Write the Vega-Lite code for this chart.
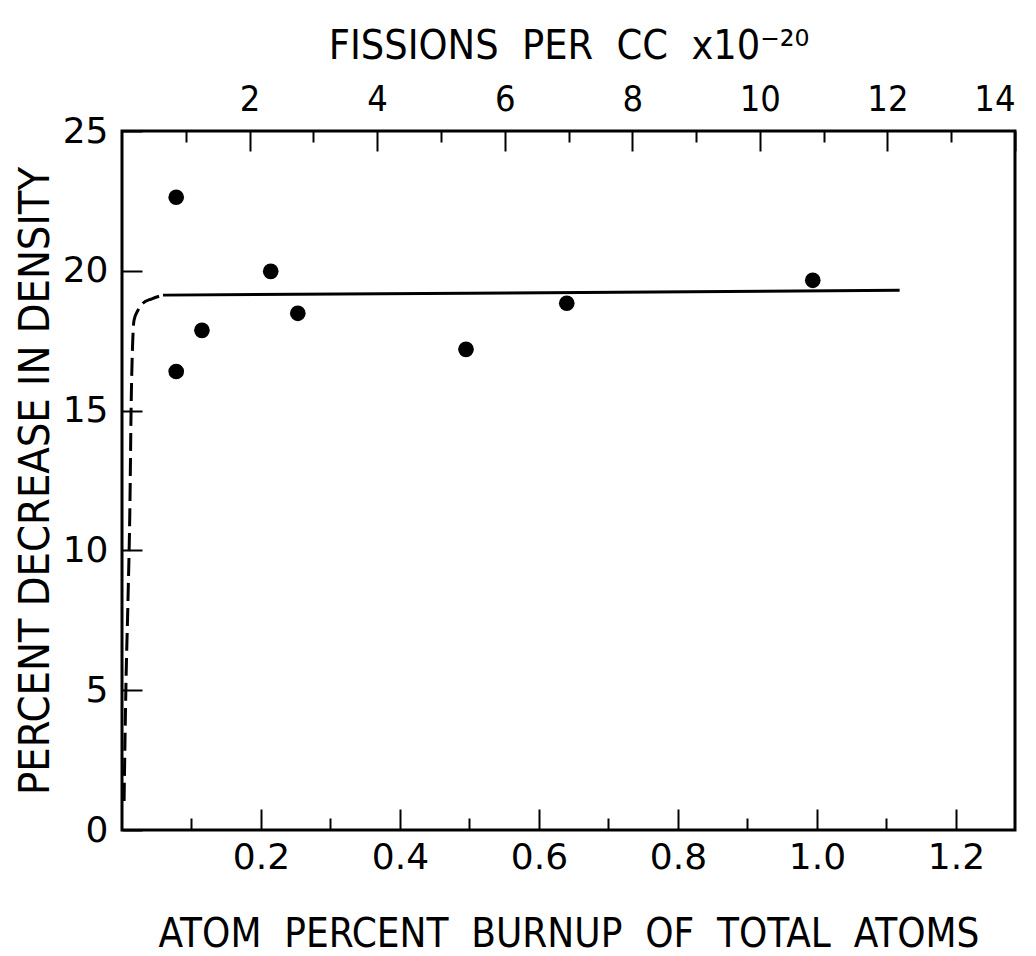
{
  "$schema": "https://vega.github.io/schema/vega-lite/v6.json",
  "width": 893,
  "height": 699,
  "autosize": {"type": "none"},
  "padding": {"left": 122, "top": 131, "right": 21, "bottom": 126},
  "background": "white",
  "config": {
    "view": {"stroke": "black", "strokeWidth": 3},
    "axis": {"grid": false, "domain": false, "tickColor": "black", "labelColor": "black", "titleColor": "black", "titleFontWeight": "normal"}
  },
  "datasets": {
    "points": [
      {"burnup": 0.078, "decrease": 22.63},
      {"burnup": 0.078, "decrease": 16.40},
      {"burnup": 0.115, "decrease": 17.87},
      {"burnup": 0.214, "decrease": 19.98},
      {"burnup": 0.253, "decrease": 18.48},
      {"burnup": 0.495, "decrease": 17.19},
      {"burnup": 0.640, "decrease": 18.84},
      {"burnup": 0.994, "decrease": 19.66}
    ],
    "fit": [
      {"burnup": 0.059, "decrease": 19.13},
      {"burnup": 1.119, "decrease": 19.30}
    ],
    "dashed": [
      {"burnup": 0.003, "decrease": 1.04},
      {"burnup": 0.0043, "decrease": 3.19},
      {"burnup": 0.0058, "decrease": 5.34},
      {"burnup": 0.0086, "decrease": 8.2},
      {"burnup": 0.0115, "decrease": 11.78},
      {"burnup": 0.0130, "decrease": 14.9},
      {"burnup": 0.0151, "decrease": 17.26},
      {"burnup": 0.0173, "decrease": 18.23},
      {"burnup": 0.023, "decrease": 18.59},
      {"burnup": 0.030, "decrease": 18.84},
      {"burnup": 0.043, "decrease": 19.0},
      {"burnup": 0.059, "decrease": 19.13}
    ],
    "fissions": [
      {"fissions": 0, "decrease": 0},
      {"fissions": 14, "decrease": 0}
    ]
  },
  "layer": [
    {
      "encoding": {
        "x": {
          "field": "burnup", "type": "quantitative",
          "scale": {"domain": [0, 1.285], "nice": false, "zero": false},
          "axis": {
            "orient": "bottom",
            "title": "ATOM\u00a0 PERCENT\u00a0 BURNUP\u00a0 OF\u00a0 TOTAL\u00a0 ATOMS",
            "values": [0.1, 0.2, 0.3, 0.4, 0.5, 0.6, 0.7, 0.8, 0.9, 1.0, 1.1, 1.2],
            "labelExpr": "round(datum.value*10) % 2 == 0 ? format(datum.value, '.1f') : ''",
            "tickSize": {"condition": {"test": "round(datum.value*10) % 2 == 0", "value": -21}, "value": -12},
            "tickWidth": 2,
            "labelFont": "DejaVu Sans",
            "labelFontSize": 36,
            "labelPadding": 31,
            "titleFont": "Liberation Sans Narrow, DejaVu Sans Condensed, sans-serif",
            "titleFontSize": 40,
            "titlePadding": 39
          }
        },
        "y": {
          "field": "decrease", "type": "quantitative",
          "scale": {"domain": [0, 25], "nice": false},
          "axis": {
            "title": "PERCENT  DECREASE  IN  DENSITY",
            "values": [0, 5, 10, 15, 20, 25],
            "tickSize": -20,
            "tickWidth": 2,
            "labelFont": "DejaVu Sans",
            "labelFontSize": 36,
            "labelPadding": 34,
            "titleFont": "Liberation Sans Narrow, DejaVu Sans Condensed, sans-serif",
            "titleFontSize": 43,
            "titlePadding": 5
          }
        }
      },
      "layer": [
        {
          "data": {"name": "points"},
          "mark": {"type": "circle", "size": 245, "color": "black", "opacity": 1}
        },
        {
          "data": {"name": "fit"},
          "mark": {"type": "line", "color": "black", "strokeWidth": 3}
        },
        {
          "data": {"name": "dashed"},
          "mark": {"type": "line", "color": "black", "strokeWidth": 3, "strokeDash": [18, 7], "interpolate": "monotone"}
        }
      ]
    },
    {
      "data": {"name": "fissions"},
      "mark": {"type": "point", "opacity": 0},
      "encoding": {
        "x": {
          "field": "fissions", "type": "quantitative",
          "scale": {"domain": [0, 14], "nice": false, "zero": false},
          "axis": {
            "orient": "top",
            "title": "FISSIONS\u00a0 PER\u00a0 CC\u00a0 x10⁻²⁰",
            "values": [1, 2, 3, 4, 5, 6, 7, 8, 9, 10, 11, 12, 13, 14],
            "labelExpr": "datum.value % 2 == 0 ? datum.value : ''",
            "tickSize": {"condition": {"test": "datum.value % 2 == 0", "value": -20}, "value": -11},
            "tickWidth": 2,
            "labelFont": "Liberation Sans Narrow, DejaVu Sans Condensed, sans-serif",
            "labelFontSize": 36,
            "labelPadding": 33,
            "titleFont": "Liberation Sans Narrow, DejaVu Sans Condensed, sans-serif",
            "titleFontSize": 41,
            "titlePadding": 14
          }
        },
        "y": {"field": "decrease", "type": "quantitative"}
      }
    }
  ],
  "resolve": {"scale": {"x": "independent"}}
}
